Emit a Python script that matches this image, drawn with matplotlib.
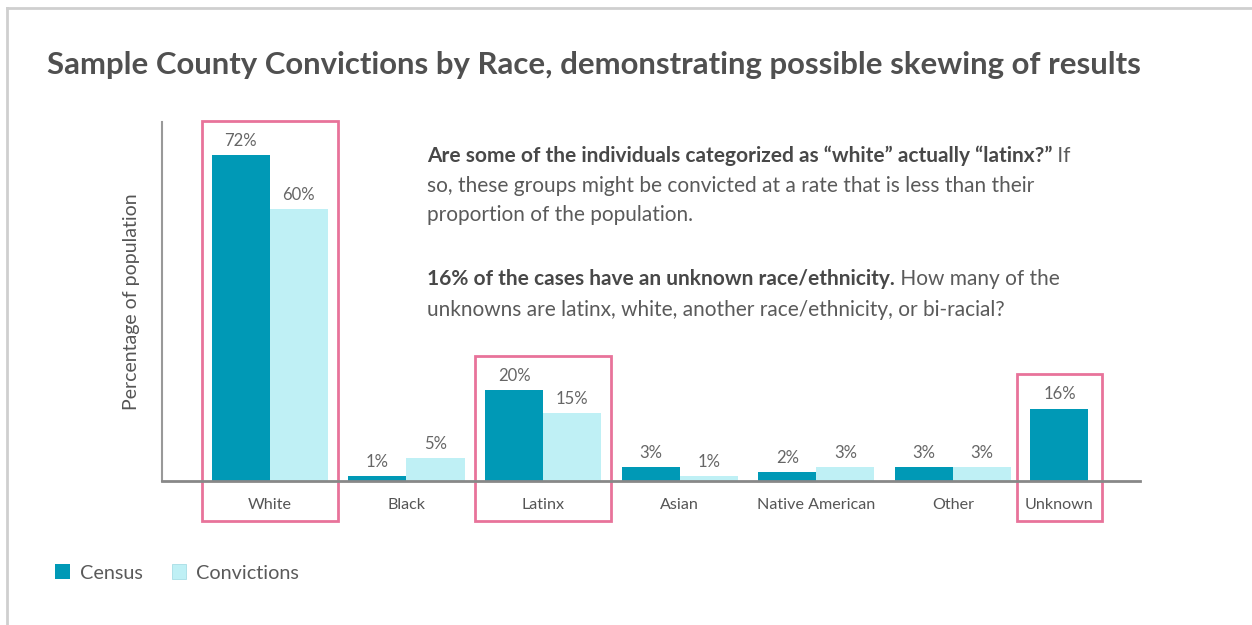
import numpy as np
import matplotlib
matplotlib.use("Agg")
import matplotlib.pyplot as plt
from matplotlib.patches import Rectangle, Patch
from matplotlib.lines import Line2D

# ---- data ----
categories = ["White", "Black", "Latinx", "Asian", "Native American", "Other", "Unknown"]
census = [72, 1, 20, 3, 2, 3, 16]
convictions = [60, 5, 15, 1, 3, 3, None]
highlighted = ["White", "Latinx", "Unknown"]
series_names = ["Census", "Convictions"]
title = "Sample County Convictions by Race, demonstrating possible skewing of results"
ylabel = "Percentage of population"
note_lines = [
    [("Are some of the individuals categorized as \u201cwhite\u201d actually \u201clatinx?\u201d", "bold"), (" If", "normal")],
    [("so, these groups might be convicted at a rate that is less than their", "normal")],
    [("proportion of the population.", "normal")],
    [],
    [("16% of the cases have an unknown race/ethnicity.", "bold"), (" How many of the", "normal")],
    [("unknowns are latinx, white, another race/ethnicity, or bi-racial?", "normal")],
]

# ---- style ----
C_CENSUS = "#0099b6"
C_CONV = "#bff0f5"
C_PINK = "#e8739a"
C_TEXT = "#555555"
FONT = ["Lato", "DejaVu Sans"]
plt.rcParams["font.family"] = FONT

W, H = 1252, 625
fig = plt.figure(figsize=(W / 100, H / 100), dpi=100)
fig.patch.set_facecolor("white")

# outer frame (top & left grey border)
fig.add_artist(Line2D([7 / W, 7 / W], [0, 1 - 8 / H], color="#cfcfcf", lw=2, transform=fig.transFigure))
fig.add_artist(Line2D([7 / W, 1], [1 - 8 / H, 1 - 8 / H], color="#cfcfcf", lw=2, transform=fig.transFigure))

ax = fig.add_axes([162 / W, 1 - 481 / H, (1140 - 162) / W, (481 - 122) / H])
ax.set_facecolor("none")

n = len(categories)
centers = np.arange(n, dtype=float)
centers[-1] -= 0.22  # single-bar group sits a bit closer
bw = 0.425

for i, cat in enumerate(categories):
    c = census[i]
    v = convictions[i]
    if v is None:
        xs = [(centers[i], c, C_CENSUS)]
    else:
        xs = [(centers[i] - bw / 2, c, C_CENSUS), (centers[i] + bw / 2, v, C_CONV)]
    for x, val, col in xs:
        ax.bar(x, val, width=bw, color=col, edgecolor="none", zorder=2)
        ax.annotate(f"{val}%", (x, val), xytext=(0, 4.5), textcoords="offset points",
                    ha="center", va="bottom", fontsize=12, color="#666666")

# highlight boxes
for cat in highlighted:
    i = categories.index(cat)
    top = max(census[i], convictions[i] or 0)
    half = 0.5 if convictions[i] is not None else 0.31
    rect = Rectangle((centers[i] - half, -8.8), 2 * half, top + 8.8 + 7.6,
                     fill=False, edgecolor=C_PINK, lw=2, clip_on=False, zorder=3)
    ax.add_patch(rect)

ax.set_xlim(-0.79, 6.37)
ax.set_ylim(0, 79.3)
ax.set_xticks(centers)
ax.set_xticklabels(categories, fontsize=11.6, color=C_TEXT)
ax.tick_params(axis="x", length=0, pad=12.5)
ax.set_yticks([])
for s in ["top", "right"]:
    ax.spines[s].set_visible(False)
ax.spines["bottom"].set_color("#888888")
ax.spines["bottom"].set_linewidth(2)
ax.spines["bottom"].set_zorder(4)
ax.spines["left"].set_color("#999999")
ax.spines["left"].set_linewidth(1.5)
ax.set_ylabel(ylabel, fontsize=14, color=C_TEXT, labelpad=16)

fig.text(47 / W, 1 - 65 / H, title, fontsize=22.4, fontweight="bold", color="#505050",
         ha="left", va="center")

# annotation text
renderer = fig.canvas.get_renderer()
line_baselines = [162, 192, 221, 253, 285, 316]
for k, parts in enumerate(note_lines):
    x = 427
    yb = line_baselines[k]
    for txt, wt in parts:
        t = fig.text(x / W, 1 - yb / H, txt, fontsize=15, fontweight=wt,
                     color="#484848" if wt == "bold" else "#5a5a5a", ha="left", va="baseline")
        bb = t.get_window_extent(renderer)
        x += bb.width

# legend
handles = [Patch(facecolor=C_CENSUS, edgecolor="none"),
           Patch(facecolor=C_CONV, edgecolor="#a8dde5", lw=0.6)]
leg = fig.legend(handles, series_names, loc="center left", bbox_to_anchor=(55 / W, 1 - 573 / H),
                 ncol=2, frameon=False, fontsize=14.3, handlelength=0.75, handleheight=0.75,
                 handletextpad=0.5, columnspacing=1.45, borderaxespad=0, borderpad=0)
for t in leg.get_texts():
    t.set_color("#5a5a5a")

fig.savefig("out.png", dpi=100)
